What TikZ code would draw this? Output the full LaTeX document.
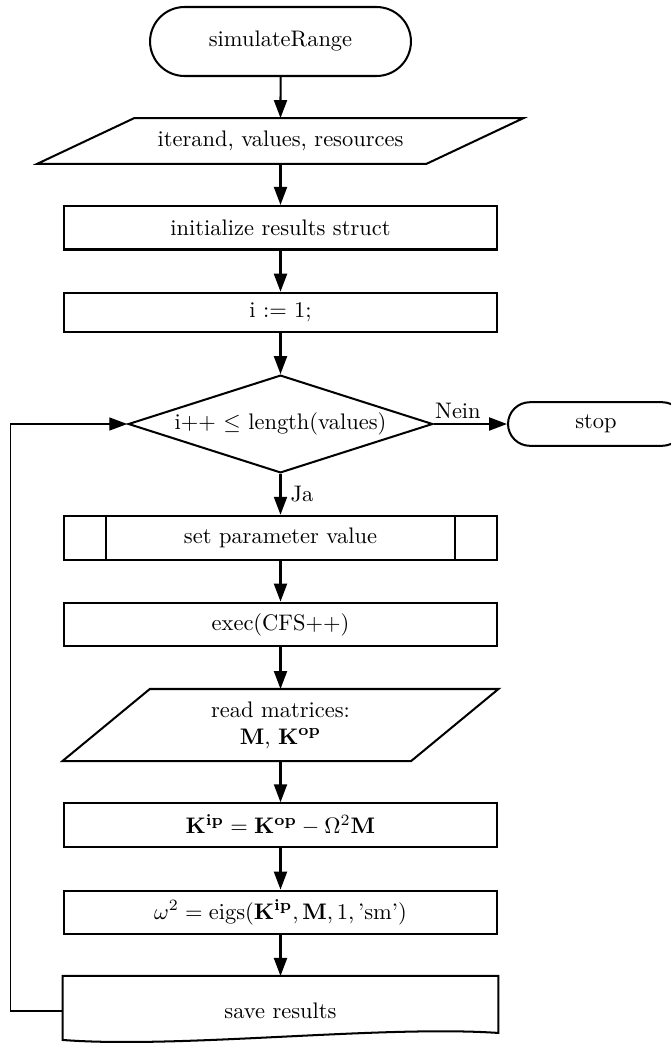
\documentclass[tikz,border=0pt]{standalone}
\usetikzlibrary{shapes.geometric,shapes.misc,arrows.meta,calc}
\begin{document}
\begin{tikzpicture}[x=0.445pt,y=-0.445pt,
  base/.style={line width=0.9pt, inner sep=0pt, align=center},
  proc/.style={base, draw, rectangle, minimum width=193.1pt, minimum height=19.4pt},
  term/.style={base, draw, rounded rectangle},
  iobox/.style={base, rectangle},
  arr/.style={line width=0.9pt, -{Triangle[length=8pt,width=5.8pt]}},
  backarr/.style={line width=0.6pt, -{Triangle[length=8pt,width=5.8pt]}},
  lbl/.style={inner sep=2pt}]
\useasboundingbox (0,0) rectangle (671,1043);

\node[term, minimum width=116.1pt, minimum height=30.7pt] (start) at (280.5,41.5) {simulateRange};
\node[iobox, minimum width=215.5pt, minimum height=19.45pt] (in) at (280.5,140.9) {iterand, values, resources};
\draw[base] ($(in.north west)+(97,0)$) -- (in.north east) -- ($(in.south east)+(-97,0)$) -- (in.south west) -- cycle;
\node[proc] (init) at (280.5,227.7) {initialize results struct};
\node[proc, minimum height=17.6pt] (ione) at (280.5,312.5) {i := 1;};
\node[base, draw, diamond, aspect=3.1, minimum width=135.5pt, minimum height=43.5pt] (dec) at (280.5,424) {i++ $\leq$ length(values)};
\node[term, minimum width=78.3pt, minimum height=19.4pt] (stop) at (596,424) {stop};
\node[proc, minimum height=19.7pt] (sub) at (280.5,537.9) {set parameter value};
\draw[base] ($(sub.north west)+(43.5,0)$) -- ($(sub.south west)+(43.5,0)$);
\draw[base] ($(sub.north east)+(-43.5,0)$) -- ($(sub.south east)+(-43.5,0)$);
\node[proc] (exec) at (280.5,624.4) {exec(CFS++)};
\node[iobox, minimum width=193.1pt, minimum height=31.15pt] (read) at (280.5,725) {read matrices:\\ $\mathbf{M}$, $\mathbf{K}^{\mathbf{op}}$};
\draw[base] ($(read.north west)+(87.3,0)$) -- (read.north east) -- ($(read.south east)+(-87.3,0)$) -- (read.south west) -- cycle;
\node[proc, minimum height=19.6pt] (kip) at (280.5,825.3) {$\mathbf{K}^{\mathbf{ip}} = \mathbf{K}^{\mathbf{op}} - \Omega^2\mathbf{M}$};
\node[proc] (eig) at (280.5,912.4) {$\omega^2 = \mathrm{eigs}(\mathbf{K}^{\mathbf{ip}}, \mathbf{M}, 1, \mbox{'sm'})$};
\node[iobox, minimum width=193.1pt, minimum height=30.3pt] (save) at (280.5,1011) {save results};
\draw[base] (save.north west) -- (save.north east) -- ($(save.north east)+(0,57)$)
  .. controls ($(save.north east)+(-117.6,49)$) and ($(save.north west)+(116.5,73)$) .. ($(save.north west)+(0,64)$) -- cycle;

\draw[arr] (start) -- (in);
\draw[arr] (in) -- (init);
\draw[arr] (init) -- (ione);
\draw[arr] (ione) -- (dec);
\draw[arr] (dec.east) -- node[lbl, above, pos=0.33] {Nein} (stop.west);
\draw[arr] (dec.south) -- node[lbl, right, inner sep=4pt, pos=0.5] {Ja} (sub.north);
\draw[arr] (sub) -- (exec);
\draw[arr] (exec) -- (read);
\draw[arr] (read) -- (kip);
\draw[arr] (kip) -- (eig);
\draw[arr] (eig) -- (save);
\coordinate (bend) at ($(save.west)+(-52,0)$);
\draw[backarr] (save.west) -- (bend) |- (dec.west);
\end{tikzpicture}
\end{document}
